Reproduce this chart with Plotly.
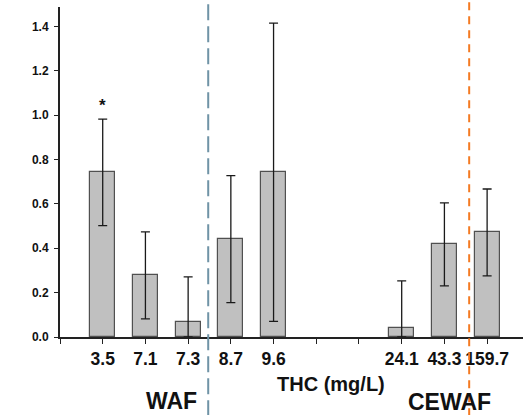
import plotly.graph_objects as go

# ---- data ----
categories = ["3.5", "7.1", "7.3", "8.7", "9.6", "", "", "24.1", "43.3", "159.7"]
values     = [0.742, 0.278, 0.069, 0.441, 0.742, None, None, 0.041, 0.417, 0.471]
errors     = [0.240, 0.196, 0.202, 0.286, 0.672, None, None, 0.212, 0.187, 0.196]
y_ticks    = [0.0, 0.2, 0.4, 0.6, 0.8, 1.0, 1.2, 1.4]
y_ticktext = ["0.0", "0.2", "0.4", "0.6", "0.8", "1.0", "1.2", "1.4"]
group_labels = ["WAF", "CEWAF"]
x_title = "THC (mg/L)"
waf_split = 2.47     # boundary between WAF and the next group (category units)
cewaf_split = 8.58   # CEWAF boundary (category units)

FONT = "Arial, Liberation Sans, sans-serif"
X_RANGE = [-1.0, 9.84]
Y_RANGE = [0.0, 1.487]

xs = list(range(len(categories)))
err_plus = [e if e is not None else 0 for e in errors]
err_minus = [min(e, v) if (e is not None and v is not None) else 0
             for e, v in zip(errors, values)]

fig = go.Figure()
fig.add_trace(go.Bar(
    x=xs, y=values, width=0.59,
    marker=dict(color="#c0c0c0", line=dict(color="#505050", width=1.2)),
    error_y=dict(type="data", symmetric=False, array=err_plus, arrayminus=err_minus,
                 color="#1a1a1a", thickness=1.3, width=4.5),
    cliponaxis=False,
    showlegend=False,
))

def xpaper(v):
    return (v - X_RANGE[0]) / (X_RANGE[1] - X_RANGE[0])

shapes = [
    dict(type="line", xref="paper", yref="paper",
         x0=xpaper(waf_split), x1=xpaper(waf_split), y0=-0.24, y1=1.03,
         line=dict(color="#6f93a6", width=2, dash="16px,6px")),
    dict(type="line", xref="paper", yref="paper",
         x0=xpaper(cewaf_split), x1=xpaper(cewaf_split), y0=-0.24, y1=1.03,
         line=dict(color="#f47a22", width=2, dash="8px,6px")),
]

annotations = [
    dict(x=0, y=values[0] + errors[0] + 0.01, xref="x", yref="y", text="<b>*</b>",
         showarrow=False, font=dict(family=FONT, size=17, color="#111"),
         xanchor="center", yanchor="bottom"),
    dict(x=xpaper(5.35), y=-0.1435, xref="paper", yref="paper", text="<b>" + x_title + "</b>",
         showarrow=False, font=dict(family=FONT, size=20, color="#111"),
         xanchor="center", yanchor="middle"),
    dict(x=xpaper(1.62), y=-0.1935, xref="paper", yref="paper", text="<b>" + group_labels[0] + "</b>",
         showarrow=False, font=dict(family=FONT, size=23, color="#111"),
         xanchor="center", yanchor="middle"),
    dict(x=xpaper(8.13), y=-0.198, xref="paper", yref="paper", text="<b>" + group_labels[1] + "</b>",
         showarrow=False, font=dict(family=FONT, size=23, color="#111"),
         xanchor="center", yanchor="middle"),
]

fig.update_layout(
    width=523, height=415,
    margin=dict(l=60, r=0, t=7, b=78.3),
    plot_bgcolor="white", paper_bgcolor="white",
    shapes=shapes, annotations=annotations,
    bargap=0,
)
fig.update_xaxes(
    range=X_RANGE, tickmode="array",
    tickvals=[-1] + xs, ticktext=[""] + ["<b>" + c + "</b>" if c else "" for c in categories],
    ticks="outside", ticklen=5, tickwidth=1.2, tickcolor="#222",
    showline=True, linecolor="#222", linewidth=2, showgrid=False, zeroline=False,
    tickfont=dict(family=FONT, size=17.5, color="#111"), ticklabelstandoff=0,
)
fig.update_yaxes(
    range=Y_RANGE, tickmode="array", tickvals=y_ticks,
    ticktext=["<b>" + t + "</b>" for t in y_ticktext],
    ticks="outside", ticklen=4, tickwidth=1.2, tickcolor="#222",
    showline=True, linecolor="#222", linewidth=2, showgrid=False, zeroline=False,
    tickfont=dict(family=FONT, size=12, color="#111"), ticklabelstandoff=3,
)

fig.write_html("out.html")
